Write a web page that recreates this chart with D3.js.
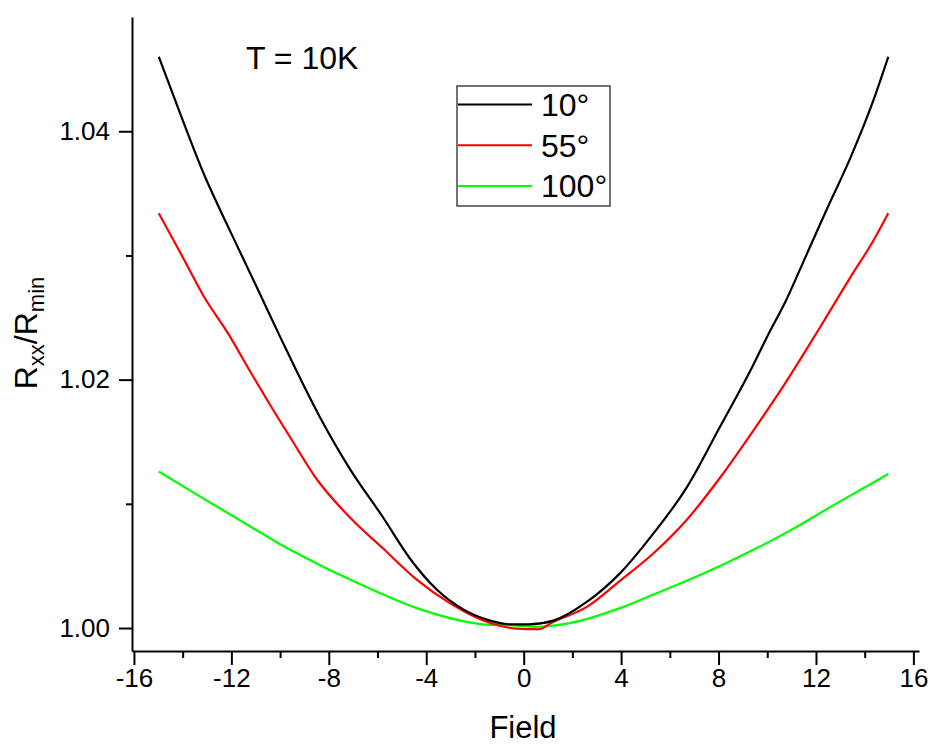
<!DOCTYPE html>
<html>
<head>
<meta charset="utf-8">
<script src="https://cdn.jsdelivr.net/npm/d3@7"></script>
<style>
  body { margin: 0; background: #fff; }
  svg { display: block; font-family: "Liberation Sans", Arial, sans-serif; }
</style>
</head>
<body>
<svg id="chart"></svg>
<script>
// values
let fieldBlack = [-14.98, -13.98, -13.16, -12.06, -10.97, -9.94, -8.37, -7.13, -5.77, -4.67, -3.57, -2.48, -1.38, -0.56, 0.2, 1.22, 2.59, 3.95, 5.32, 6.69, 8.06, 9.43, 9.98, 10.8, 11.35, 12.44, 13.4, 14.36, 14.97];
let rBlack = [1.0460, 1.0408, 1.0367, 1.0320, 1.0275, 1.0232, 1.0170, 1.0128, 1.0089, 1.0056, 1.0031, 1.0015, 1.0006, 1.0003, 1.0003, 1.0006, 1.0021, 1.0044, 1.0076, 1.0113, 1.0162, 1.0212, 1.0234, 1.0265, 1.0289, 1.0337, 1.0378, 1.0425, 1.0460];

let fieldRed = [-14.98, -13.98, -13.16, -12.13, -11.24, -10.42, -9.6, -8.5, -7.13, -5.77, -4.39, -3.03, -1.66, -0.29, 0.6, 1.22, 2.59, 3.95, 5.32, 6.69, 8.06, 9.43, 10.8, 12.1, 13.4, 14.36, 14.97];
let rRed = [1.0334, 1.0298, 1.0268, 1.0237, 1.0207, 1.0180, 1.0154, 1.0120, 1.0089, 1.0064, 1.0039, 1.0020, 1.0006, 0.99995, 0.9999, 1.0005, 1.0017, 1.0038, 1.0060, 1.0087, 1.0121, 1.0159, 1.0199, 1.0240, 1.0282, 1.0312, 1.0334];

let fieldGreen = [-14.98, -13.3, -12.27, -11.24, -9.87, -8.5, -7.13, -5.77, -4.39, -3.03, -1.66, -0.29, 0.5, 1.9, 3.95, 5.32, 6.69, 8.06, 9.43, 10.8, 12.9, 14.97];
let rGreen = [1.0126, 1.0106, 1.0094, 1.0082, 1.0066, 1.0052, 1.0039, 1.0027, 1.0016, 1.0008, 1.0003, 1.0002, 1.0001, 1.0004, 1.0016, 1.0027, 1.0038, 1.0050, 1.0063, 1.0077, 1.0101, 1.0124];

let seriesNames = ['10°', '55°', '100°'];
let seriesColors = ['#000000', '#ff0000', '#00ff00'];

let xTicks = [-16, -12, -8, -4, 0, 4, 8, 12, 16];
let xMinorTicks = [-14, -10, -6, -2, 2, 6, 10, 14];
let yTicks = [1.00, 1.02, 1.04];
let yMinorTicks = [1.01, 1.03];

let width = 932;
let height = 745;

let svg = d3.select('#chart').attr('width', width).attr('height', height);

let xScale = d3.scaleLinear().domain([-16.08, 16.23]).range([132, 919]);
let yScale = d3.scaleLinear().domain([0.99815, 1.0492]).range([651, 17]);

let series = [
    { name: seriesNames[0], color: seriesColors[0], x: fieldBlack, y: rBlack },
    { name: seriesNames[1], color: seriesColors[1], x: fieldRed, y: rRed },
    { name: seriesNames[2], color: seriesColors[2], x: fieldGreen, y: rGreen },
];

// axes
let styleAxis = (g) => {
    g.select('.domain').attr('stroke', '#000').attr('stroke-width', 2);
    g.selectAll('.tick line').attr('stroke', '#000').attr('stroke-width', 2);
    g.selectAll('.tick text').attr('fill', '#000').style('font-size', '26px');
};

let xAxis = d3.axisBottom(xScale).tickValues(xTicks).tickSize(14).tickSizeOuter(0).tickPadding(4)
    .tickFormat((d) => String(d));
svg.append('g').attr('transform', 'translate(0, 651)').call(xAxis).call(styleAxis);

let xMinor = d3.axisBottom(xScale).tickValues(xMinorTicks).tickSize(7).tickFormat('');
svg.append('g').attr('transform', 'translate(0, 651)').call(xMinor).call(styleAxis)
    .select('.domain').remove();

let yAxis = d3.axisLeft(yScale).tickValues(yTicks).tickSize(13).tickSizeOuter(0).tickPadding(9)
    .tickFormat(d3.format('.2f'));
svg.append('g').attr('transform', 'translate(132, 0)').call(yAxis).call(styleAxis);

let yMinor = d3.axisLeft(yScale).tickValues(yMinorTicks).tickSize(6).tickFormat('');
svg.append('g').attr('transform', 'translate(132, 0)').call(yMinor).call(styleAxis)
    .select('.domain').remove();

// curves
let line = d3.line()
    .x((d) => xScale(d[0]))
    .y((d) => yScale(d[1]))
    .curve(d3.curveMonotoneX);

series.slice().reverse().forEach((s) => {
    svg.append('path')
        .datum(d3.zip(s.x, s.y))
        .attr('fill', 'none')
        .attr('stroke', s.color)
        .attr('stroke-width', 2.2)
        .attr('d', line);
});

// axis titles
svg.append('text')
    .attr('x', 523).attr('y', 738)
    .attr('text-anchor', 'middle')
    .style('font-size', '31px')
    .text('Field');

let yLabel = svg.append('text')
    .attr('transform', 'translate(37, 333) rotate(-90)')
    .attr('text-anchor', 'middle')
    .style('font-size', '32px');
yLabel.append('tspan').text('R');
yLabel.append('tspan').attr('dy', 7).style('font-size', '22px').text('xx');
yLabel.append('tspan').attr('dy', -7).text('/R');
yLabel.append('tspan').attr('dy', 7).style('font-size', '22px').text('min');

svg.append('text')
    .attr('x', 246).attr('y', 69)
    .style('font-size', '32px')
    .text('T = 10K');

// legend
let legend = svg.append('g');
legend.append('rect')
    .attr('x', 457).attr('y', 86).attr('width', 153).attr('height', 120)
    .attr('fill', '#fff').attr('stroke', '#444').attr('stroke-width', 1.5);

series.forEach((s, i) => {
    let cy = 104.5 + i * 40.7;
    legend.append('line')
        .attr('x1', 458).attr('x2', 532)
        .attr('y1', cy).attr('y2', cy)
        .attr('stroke', s.color).attr('stroke-width', 2);
    legend.append('text')
        .attr('x', 541).attr('y', cy + 11.5)
        .style('font-size', '32px')
        .text(s.name);
});
</script>
</body>
</html>
